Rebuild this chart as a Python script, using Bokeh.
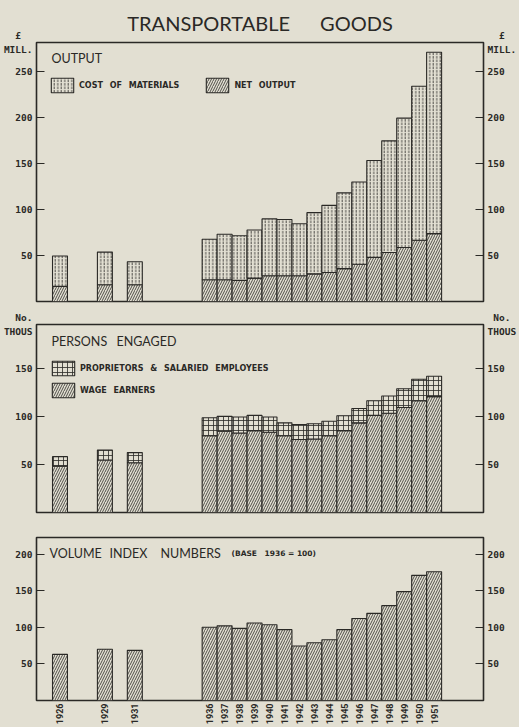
from math import pi
from bokeh.plotting import figure
from bokeh.models import (ColumnDataSource, Range1d, LinearAxis, FixedTicker,
                          Label, Legend, LegendItem)
from bokeh.layouts import column
from bokeh.embed import file_html
from bokeh.resources import INLINE

# ---------------- data ----------------
years = [1926, 1929, 1931, 1936, 1937, 1938, 1939, 1940, 1941, 1942,
         1943, 1944, 1945, 1946, 1947, 1948, 1949, 1950, 1951]
year_labels = [str(y) for y in years]

# Output, £ million
net_output = [16.4, 18.2, 18.2, 23.6, 23.6, 22.9, 25.4, 27.9, 27.9, 27.9,
              30.0, 31.4, 35.7, 40.4, 47.9, 53.2, 58.6, 66.4, 73.6]
cost_of_materials = [32.9, 35.4, 25.0, 43.9, 49.3, 48.5, 52.1, 61.7, 61.0, 56.4,
                     66.4, 72.9, 82.2, 89.2, 105.0, 121.1, 140.3, 167.2, 196.8]

# Persons engaged, thousands
wage_earners = [48.2, 54.6, 51.8, 79.9, 84.5, 82.7, 85.2, 83.5, 79.9, 76.0,
                76.4, 79.9, 85.2, 93.3, 101.0, 103.3, 109.2, 116.3, 120.6]
proprietors_salaried = [9.9, 10.5, 10.5, 18.7, 15.5, 16.6, 15.8, 15.8, 13.4, 15.5,
                        15.9, 15.1, 15.5, 14.9, 15.3, 17.9, 19.6, 22.3, 21.2]

# Volume index numbers (1936 = 100)
volume_index = [63.0, 70.0, 68.5, 100.0, 102.0, 98.6, 105.8, 103.5, 96.8, 74.5,
                79.0, 82.9, 96.8, 112.0, 119.0, 129.6, 148.7, 171.0, 176.0]

output_ticks = [50, 100, 150, 200, 250]
persons_ticks = [50, 100, 150]
volume_ticks = [50, 100, 150, 200]

output_max = 281
persons_max = 195.6
volume_max = 222.7

# ---------------- style ----------------
BG = "#e2dfd2"
INK = "#2a2926"
TFONT = "Lato"
NFONT = "DejaVu Sans"
AFONT = "DejaVu Sans Mono"
NB = "\u00a0"

src = ColumnDataSource(dict(year=years, net=net_output, cost=cost_of_materials,
                            wage=wage_earners, prop=proprietors_salaried,
                            vol=volume_index))

bar_kw = dict(fill_color=BG, line_color=INK, line_width=1.1,
              hatch_color=INK, hatch_weight=0.8)


def make_fig(h, top, bottom, ymax):
    p = figure(width=519, height=h, x_range=Range1d(1924.43, 1954.3),
               y_range=Range1d(0, ymax), x_axis_location=None, y_axis_location=None,
               toolbar_location=None, output_backend="svg",
               min_border_left=35, min_border_right=33,
               min_border_top=top, min_border_bottom=bottom,
               background_fill_color=BG, border_fill_color=BG,
               outline_line_color=INK, outline_line_width=1.6)
    p.grid.visible = False
    return p


def add_y_axes(p, ticks, unit_tick=None, unit_left=None, unit_right=None):
    for side, unit in (("left", unit_left), ("right", unit_right)):
        tk = list(ticks)
        overrides = {}
        if unit_tick is not None:
            tk.append(unit_tick)
            overrides[unit_tick] = unit
        ax = LinearAxis(ticker=FixedTicker(ticks=tk), axis_line_color=None,
                        major_tick_in=8, major_tick_out=0,
                        major_tick_line_color=INK, major_tick_line_width=1.2,
                        minor_tick_line_color=None,
                        major_label_standoff=4,
                        major_label_overrides=overrides,
                        major_label_text_font=AFONT,
                        major_label_text_font_style="bold",
                        major_label_text_font_size="9.5px",
                        major_label_text_color=INK)
        p.add_layout(ax, side)


def lab(p, x, y, text, size, align="left", font=TFONT, style="normal"):
    p.add_layout(Label(x=x, y=y, x_units="screen", y_units="screen", text=text,
                       text_font=font, text_font_size=size, text_color=INK,
                       text_align=align, text_baseline="middle",
                       text_font_style=style))


def legend(p, items, loc, orient):
    lg = Legend(items=items, location=loc, orientation=orient,
                glyph_width=28, glyph_height=18, label_height=18,
                label_standoff=3, spacing=4 if orient == "vertical" else 24,
                padding=0, margin=0, border_line_color=None,
                background_fill_alpha=0,
                label_text_font=NFONT, label_text_font_size="8px",
                label_text_font_style="bold", label_text_color=INK)
    p.add_layout(lg)


# ---------------- panel 1: output ----------------
p1 = make_fig(307, 39, 6, output_max)
p1.title.text = "TRANSPORTABLE\u2003\u2003GOODS"
p1.title.align = "center"
p1.title.text_font = TFONT
p1.title.text_font_size = "20px"
p1.title.text_font_style = "normal"
p1.title.text_color = INK
p1.title.standoff = 16
add_y_axes(p1, output_ticks, output_max,
           "£" + NB + NB + "\nMILL.", NB + NB + "£\nMILL.")
r1 = p1.vbar_stack(["net", "cost"], x="year", width=1.0, source=src,
                   hatch_pattern=["/", ":"], hatch_scale=[5, 3.5], **bar_kw)
legend(p1, [LegendItem(label="COST\u2002 OF\u2002 MATERIALS", renderers=[r1[1]]),
            LegendItem(label="NET\u2002 OUTPUT", renderers=[r1[0]])],
       (12, 207), "horizontal")
lab(p1, 15, 243, "OUTPUT", "12.5px")

# ---------------- panel 2: persons engaged ----------------
p2 = make_fig(218, 17, 13, persons_max)
add_y_axes(p2, persons_ticks, persons_max,
           "No.\nTHOUS", NB + "No.\nTHOUS")
r2 = p2.vbar_stack(["wage", "prop"], x="year", width=1.0, source=src,
                   hatch_pattern=["/", "+"], hatch_scale=[5, 5], **bar_kw)
legend(p2, [LegendItem(label="PROPRIETORS\u2002 &\u2002 SALARIED\u2002 EMPLOYEES", renderers=[r2[1]]),
            LegendItem(label="WAGE\u2002 EARNERS", renderers=[r2[0]])],
       (13, 113), "vertical")
lab(p2, 15, 171, "PERSONS\u2003ENGAGED", "12.5px")

# ---------------- panel 3: volume index ----------------
p3 = make_fig(202, 12, 26, volume_max)
add_y_axes(p3, volume_ticks)
p3.vbar(x="year", top="vol", width=1.0, source=src, hatch_pattern="/",
        hatch_scale=5, **bar_kw)
xax = LinearAxis(ticker=FixedTicker(ticks=years), axis_line_color=None,
                 major_tick_in=0, major_tick_out=0, minor_tick_line_color=None,
                 major_label_standoff=3, major_label_orientation=pi / 2,
                 major_label_overrides={y: s for y, s in zip(years, year_labels)},
                 major_label_text_font="Roboto", major_label_text_font_style="bold",
                 major_label_text_font_size="9px", major_label_text_color=INK)
p3.add_layout(xax, "below")
lab(p3, 13, 147, "VOLUME", "12.5px")
lab(p3, 73, 147, "INDEX", "12.5px")
lab(p3, 124, 147, "NUMBERS", "12.5px")
lab(p3, 195, 147, "(BASE", "7.5px", "left", NFONT, "bold")
lab(p3, 228, 147, "1936 = 100)", "7.5px", "left", NFONT, "bold")

page = column(p1, p2, p3, spacing=0, styles={"background-color": BG})
open("out.html", "w").write(file_html(page, INLINE))
